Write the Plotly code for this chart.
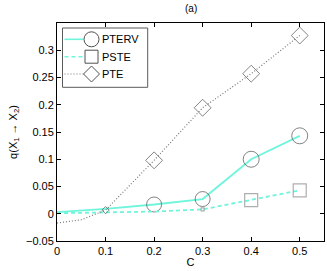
import plotly.graph_objects as go

# ---- data ----
c_vals = [0, 0.1, 0.2, 0.3, 0.4, 0.5]
pterv = [0.003, 0.009, 0.017, 0.027, 0.100, 0.143]
pterv_msize = [0, 0, 15, 15, 16, 16]
pste = [0.001, 0.003, 0.004, 0.008, 0.025, 0.043]
pste_msize = [0, 0, 0, 3, 13, 13]
pte_c = [0, 0.05, 0.1, 0.2, 0.3, 0.4, 0.5]
pte = [-0.017, -0.011, 0.0066, 0.098, 0.1945, 0.257, 0.327]
pte_msize = [0, 0, 5.5, 13, 13, 13, 13]

series_names = ["PTERV", "PSTE", "PTE"]
x_ticks = [0, 0.1, 0.2, 0.3, 0.4, 0.5]
x_ticklabels = ["0", "0.1", "0.2", "0.3", "0.4", "0.5"]
y_ticks = [-0.05, 0, 0.05, 0.1, 0.15, 0.2, 0.25, 0.3]
y_ticklabels = ["\u22120.05", "0", "0.05", "0.1", "0.15", "0.2", "0.25", "0.3"]

CYAN = "rgb(110,245,220)"
GREY = "rgb(120,120,120)"
EDGE = "rgb(80,80,80)"
FONT = "Liberation Sans, Arial, sans-serif"
DASH = "4px,3px"
DOT = "1px,2px"

W, H = 327, 271
L, R, T, B = 57, 3, 23, 30
PW, PH = W - L - R, H - T - B

fig = go.Figure()
fig.add_trace(go.Scatter(x=c_vals, y=pterv, mode="lines+markers",
                         line=dict(color=CYAN, width=1.8),
                         marker=dict(symbol="circle-open", size=pterv_msize,
                                     color=EDGE, line=dict(width=1, color=EDGE)),
                         name=series_names[0], showlegend=False))
fig.add_trace(go.Scatter(x=c_vals, y=pste, mode="lines+markers",
                         line=dict(color=CYAN, width=1.8, dash=DASH),
                         marker=dict(symbol="square-open", size=pste_msize,
                                     color="rgb(140,140,140)", line=dict(width=1.2, color="rgb(140,140,140)")),
                         name=series_names[1], showlegend=False))
fig.add_trace(go.Scatter(x=pte_c, y=pte, mode="lines+markers",
                         line=dict(color=GREY, width=1.2, dash=DOT),
                         marker=dict(symbol="diamond-open", size=pte_msize,
                                     color=EDGE, line=dict(width=1, color=EDGE)),
                         name=series_names[2], showlegend=False))

def px(xpix):
    return (xpix - L) / PW

def py(ypix):
    return (T + PH - ypix) / PH

shapes = []
anns = []
shapes.append(dict(type="rect", xref="paper", yref="paper",
                   x0=px(62.5), x1=px(147.7), y0=py(87.3), y1=py(28),
                   line=dict(color="rgb(90,90,90)", width=1), fillcolor="white"))
rows = [39.3, 56.7, 74.0]
dashes = ["solid", DASH, DOT]
lcolors = [CYAN, CYAN, GREY]
for i, yy in enumerate(rows):
    shapes.append(dict(type="line", xref="paper", yref="paper",
                       x0=px(64.5), x1=px(83.5), y0=py(yy), y1=py(yy),
                       line=dict(color=lcolors[i], width=1.6 if i < 2 else 1.2, dash=dashes[i])))
    anns.append(dict(text=series_names[i], xref="paper", yref="paper",
                     x=px(100), y=py(yy), xanchor="left", yanchor="middle",
                     showarrow=False, font=dict(size=11, color="black", family=FONT)))
mx = 91.5
shapes.append(dict(type="circle", xref="paper", yref="paper",
                   x0=px(mx - 7.5), x1=px(mx + 7.5), y0=py(rows[0] + 7.5), y1=py(rows[0] - 7.5),
                   line=dict(color=EDGE, width=1)))
shapes.append(dict(type="rect", xref="paper", yref="paper",
                   x0=px(mx - 6.5), x1=px(mx + 6.5), y0=py(rows[1] + 6.5), y1=py(rows[1] - 6.5),
                   line=dict(color=EDGE, width=1)))
d = 8
xs = [px(mx), px(mx + d), px(mx), px(mx - d)]
ys = [py(rows[2] - d), py(rows[2]), py(rows[2] + d), py(rows[2])]
path = "M {} {} L {} {} L {} {} L {} {} Z".format(xs[0], ys[0], xs[1], ys[1], xs[2], ys[2], xs[3], ys[3])
shapes.append(dict(type="path", xref="paper", yref="paper", path=path,
                   line=dict(color=EDGE, width=1)))

anns.append(dict(text="(a)", xref="paper", yref="paper", x=0.5, y=py(9),
                 xanchor="center", yanchor="middle", showarrow=False,
                 font=dict(size=10, color="black", family=FONT)))

fig.update_layout(
    width=W, height=H,
    margin=dict(l=L, r=R, t=T, b=B),
    paper_bgcolor="white", plot_bgcolor="white",
    font=dict(family=FONT, size=11, color="black"),
    shapes=shapes, annotations=anns,
    showlegend=False,
)
fig.update_xaxes(range=[0, 0.55], tickvals=x_ticks, ticktext=x_ticklabels,
                 ticks="inside", ticklen=4, tickcolor="black", mirror="ticks",
                 showline=True, linecolor="black", linewidth=1, showgrid=False,
                 zeroline=False, tickfont=dict(size=11),
                 title=dict(text="C", font=dict(size=11), standoff=2))
fig.update_yaxes(range=[-0.05, 0.35], tickvals=y_ticks, ticktext=y_ticklabels,
                 ticks="inside", ticklen=4, tickcolor="black", mirror="ticks",
                 showline=True, linecolor="black", linewidth=1, showgrid=False,
                 zeroline=False, tickfont=dict(size=11),
                 title=dict(text="q(X<sub>1</sub> \u2192 X<sub>2</sub>)", font=dict(size=11), standoff=6))

fig.write_html("out.html", config={"displayModeBar": False},
               post_script="document.body.style.margin='0';document.body.style.overflow='hidden';")
